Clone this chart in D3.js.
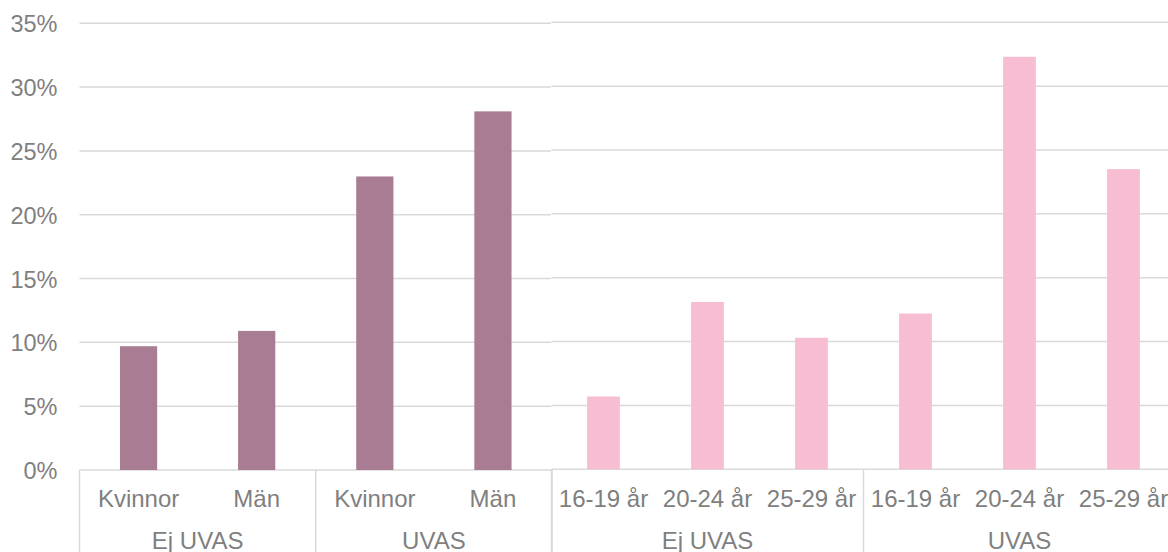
<!DOCTYPE html>
<html>
<head>
<meta charset="utf-8">
<script src="https://cdn.jsdelivr.net/npm/d3@7"></script>
<style>
  html, body { margin: 0; padding: 0; background: #fff; }
  svg { display: block; }
  text { font-family: "Liberation Sans", Arial, sans-serif; fill: #7f7f7f; }
</style>
</head>
<body>
<svg id="chart" width="1168" height="552"></svg>
<script>
// ---- Data ----
const leftCategories = ["Kvinnor", "Män", "Kvinnor", "Män"];
const leftGroups = ["Ej UVAS", "UVAS"];
const leftValues = [0.097, 0.109, 0.230, 0.281];

const rightCategories = ["16-19 år", "20-24 år", "25-29 år", "16-19 år", "20-24 år", "25-29 år"];
const rightGroups = ["Ej UVAS", "UVAS"];
const rightValues = [0.057, 0.131, 0.103, 0.122, 0.323, 0.235];

const yTicks = [0, 0.05, 0.10, 0.15, 0.20, 0.25, 0.30, 0.35];
const yTickLabels = ["0%", "5%", "10%", "15%", "20%", "25%", "30%", "35%"];

// ---- Drawing ----
const svg = d3.select("#chart");
const W = 1168, H = 552;
const gridColor = "#d9d9d9";
const fontSize = 24;

function drawPanel(opts) {
  const { cats, groups, values, x0, x1, y0, yTop, color, gridEnd, showTicks } = opts;
  const idx = cats.map((c, i) => i);
  const x = d3.scaleBand().domain(idx).range([x0, x1])
    .paddingInner(0.685).paddingOuter(0.3425);
  const y = d3.scaleLinear().domain([0, 0.35]).range([y0, yTop]);
  const g = svg.append("g");

  // gridlines
  g.selectAll("line.grid").data(yTicks.filter(t => t > 0)).join("line")
    .attr("x1", x0).attr("x2", gridEnd)
    .attr("y1", d => y(d)).attr("y2", d => y(d))
    .attr("stroke", gridColor).attr("stroke-width", 1.5);

  // baseline
  g.append("line").attr("x1", x0).attr("x2", gridEnd)
    .attr("y1", y(0)).attr("y2", y(0))
    .attr("stroke", gridColor).attr("stroke-width", 1.5);

  // bars
  g.selectAll("rect.bar").data(values).join("rect")
    .attr("x", (d, i) => x(i)).attr("width", x.bandwidth())
    .attr("y", d => y(d)).attr("height", d => y(0) - y(d))
    .attr("fill", color);

  // category labels
  g.selectAll("text.cat").data(cats).join("text")
    .attr("x", (d, i) => x(i) + x.bandwidth() / 2)
    .attr("y", 507)
    .attr("text-anchor", "middle")
    .attr("font-size", fontSize)
    .text(d => d);

  // group dividers & labels
  const perGroup = cats.length / groups.length;
  const step = x.step();
  for (let k = 0; k <= groups.length; k++) {
    const xx = x0 + k * perGroup * step;
    g.append("line").attr("x1", xx).attr("x2", xx)
      .attr("y1", y(0)).attr("y2", H)
      .attr("stroke", gridColor).attr("stroke-width", 1.5);
  }
  groups.forEach((gname, k) => {
    const cx = x0 + (k + 0.5) * perGroup * step;
    g.append("text").attr("x", cx).attr("y", 548.5)
      .attr("text-anchor", "middle").attr("font-size", fontSize)
      .text(gname);
  });

  if (showTicks) {
    g.selectAll("text.tick").data(yTicks).join("text")
      .attr("x", 57.5).attr("y", d => y(d) + 9)
      .attr("text-anchor", "end").attr("font-size", 23.5)
      .text((d, i) => yTickLabels[i]);
  }
}

drawPanel({
  cats: leftCategories, groups: leftGroups, values: leftValues,
  x0: 79.5, x1: 552, y0: 470, yTop: 23.3, color: "#a87d93",
  gridEnd: 551, showTicks: true
});
drawPanel({
  cats: rightCategories, groups: rightGroups, values: rightValues,
  x0: 551.5, x1: 1175.5, y0: 469.3, yTop: 22.3, color: "#f7bdd2",
  gridEnd: 1168, showTicks: false
});
</script>
</body>
</html>
